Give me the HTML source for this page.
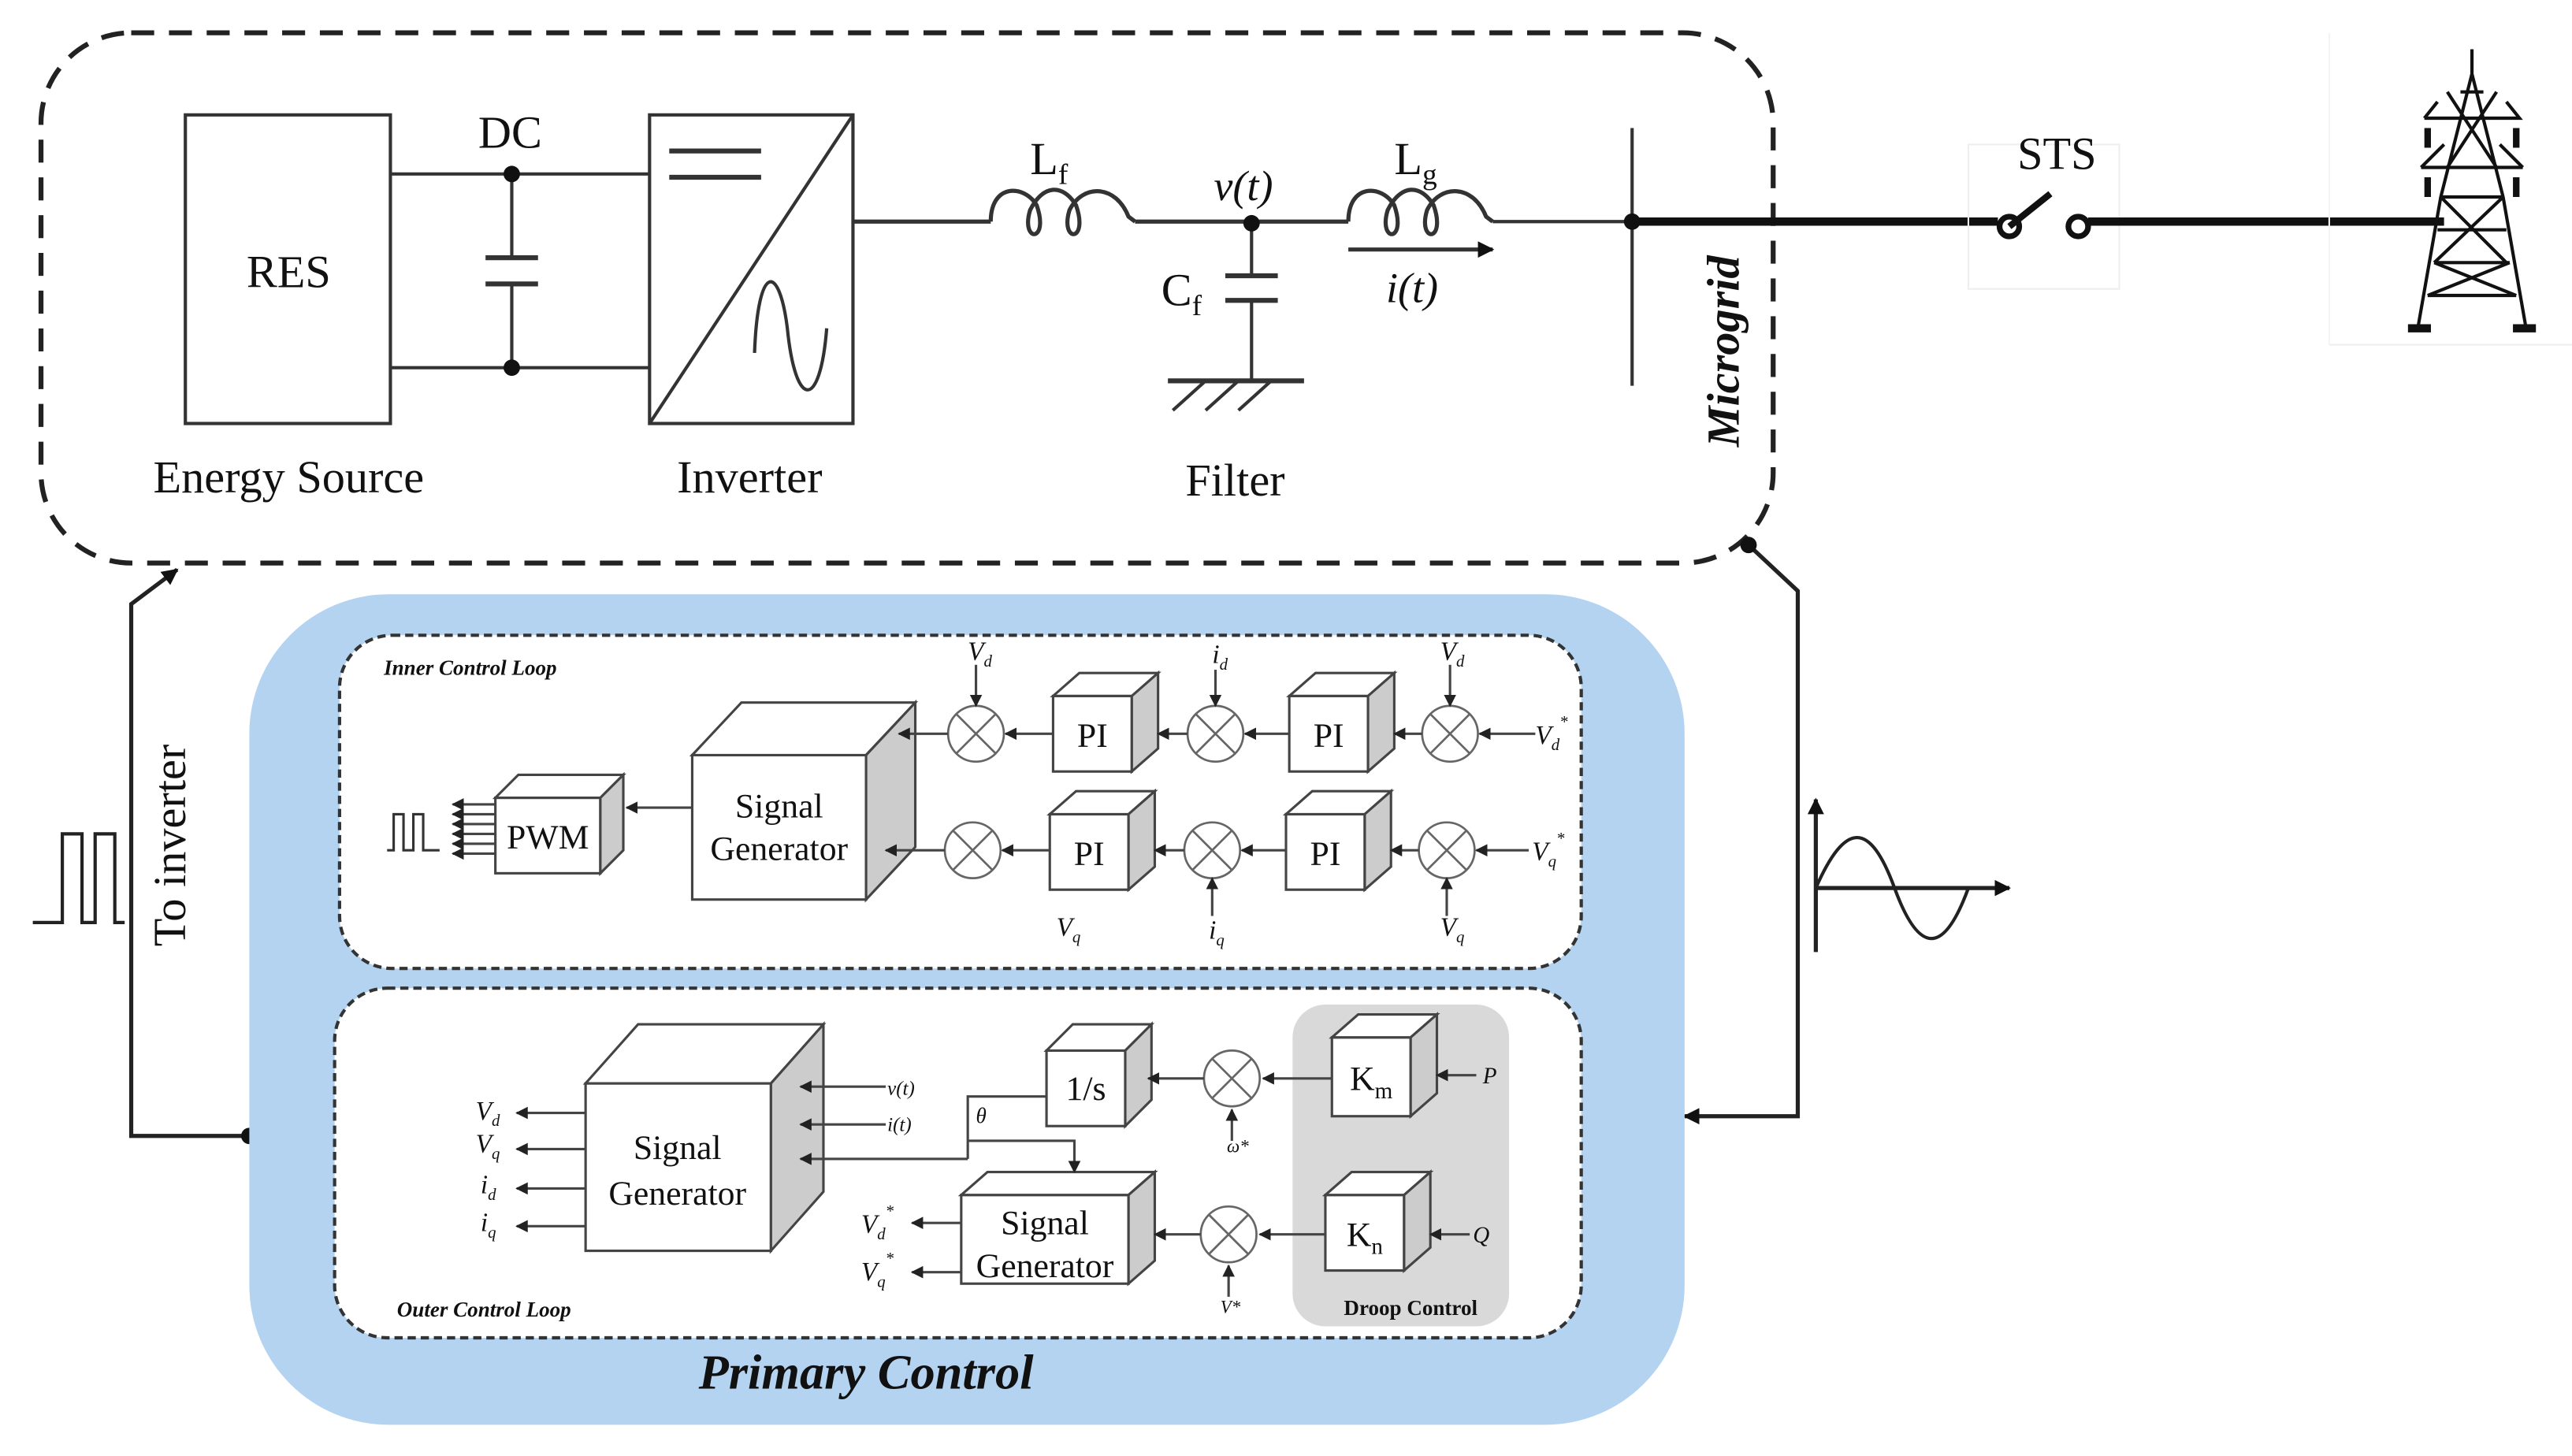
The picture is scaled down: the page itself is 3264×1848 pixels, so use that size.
<!DOCTYPE html>
<html><head><meta charset="utf-8"><style>
html,body{margin:0;padding:0;background:#fff}
svg{display:block}
text{font-family:"Liberation Serif",serif;fill:#111}
.it{font-style:italic}
</style></head><body>
<svg width="3264" height="1848" viewBox="0 0 1568 887" preserveAspectRatio="none" xmlns="http://www.w3.org/2000/svg">
<defs>
<marker id="a" viewBox="0 0 10 10" refX="9" refY="5" markerWidth="5" markerHeight="5" orient="auto"><path d="M0,0L10,5L0,10z" fill="#222"/></marker>
<marker id="b" viewBox="0 0 10 10" refX="9" refY="5" markerWidth="4" markerHeight="4" orient="auto"><path d="M0,0L10,5L0,10z" fill="#111"/></marker>
</defs>
<rect width="1568" height="887" fill="#fff"/>
<rect x="25" y="20" width="1056" height="323" rx="55" fill="none" stroke="#222" stroke-width="3" stroke-dasharray="14,9"/>
<rect x="113" y="70" width="125" height="188" fill="none" stroke="#333" stroke-width="2"/>
<text x="176" y="175" font-size="28" text-anchor="middle">RES</text>
<text x="176" y="300" font-size="28" text-anchor="middle">Energy Source</text>
<g stroke="#333" stroke-width="2" fill="none">
<line x1="238" y1="106" x2="396" y2="106"/><line x1="238" y1="224" x2="396" y2="224"/>
<line x1="312" y1="106" x2="312" y2="157"/><line x1="312" y1="173" x2="312" y2="224"/>
<line x1="296" y1="157" x2="328" y2="157" stroke-width="3"/><line x1="296" y1="173" x2="328" y2="173" stroke-width="3"/>
<rect x="396" y="70" width="124" height="188"/>
<line x1="396" y1="258" x2="520" y2="70"/>
<line x1="408" y1="92" x2="464" y2="92" stroke-width="3"/><line x1="408" y1="108" x2="464" y2="108" stroke-width="3"/>
<path d="M460,215 C462,160 475,160 480,200 C485,250 500,250 504,200"/>
<line x1="520" y1="135" x2="604" y2="135" stroke-width="2.5"/>
<path d="M604,135 C604,112 624,112 632,125 C640,148 622,148 628,128 C636,112 648,112 656,125 C664,148 646,148 652,128 C660,112 680,112 688,132 L692,135" stroke-width="2.5"/>
<line x1="692" y1="135" x2="822" y2="135" stroke-width="2.5"/>
<path d="M822,135 C822,112 842,112 850,125 C858,148 840,148 846,128 C854,112 866,112 874,125 C882,148 864,148 870,128 C878,112 898,112 906,132 L910,135" stroke-width="2.5"/>
<line x1="910" y1="135" x2="995" y2="135" stroke-width="2"/>
<line x1="763" y1="136" x2="763" y2="168"/><line x1="763" y1="183" x2="763" y2="232"/>
<line x1="747" y1="168" x2="779" y2="168" stroke-width="3"/><line x1="747" y1="183" x2="779" y2="183" stroke-width="3"/>
<line x1="712" y1="232" x2="795" y2="232" stroke-width="3"/>
<line x1="735" y1="232" x2="715" y2="250"/><line x1="755" y1="232" x2="735" y2="250"/><line x1="775" y1="232" x2="755" y2="250"/>
<line x1="995" y1="78" x2="995" y2="235"/>
<line x1="822" y1="152" x2="910" y2="152" marker-end="url(#b)" stroke-width="2.5"/>
</g>
<circle cx="312" cy="106" r="5" fill="#111"/><circle cx="312" cy="224" r="5" fill="#111"/>
<circle cx="763" cy="136" r="5" fill="#111"/><circle cx="995" cy="135" r="5" fill="#111"/>
<text x="311" y="90" font-size="28" text-anchor="middle">DC</text>
<text x="628" y="106" font-size="28">L<tspan font-size="18" dy="6">f</tspan></text>
<text x="850" y="106" font-size="28">L<tspan font-size="18" dy="6">g</tspan></text>
<text x="740" y="122" font-size="26" class="it">v(t)</text>
<text x="708" y="186" font-size="28">C<tspan font-size="18" dy="6">f</tspan></text>
<text x="845" y="184" font-size="26" class="it">i(t)</text>
<text x="457" y="300" font-size="28" text-anchor="middle">Inverter</text>
<text x="753" y="302" font-size="28" text-anchor="middle">Filter</text>
<text transform="translate(1060,214) rotate(-90)" font-size="28" font-weight="bold" class="it" text-anchor="middle">Microgrid</text>
<line x1="995" y1="135" x2="1218" y2="135" stroke="#111" stroke-width="5"/>
<rect x="1200" y="88" width="92" height="88" fill="none" stroke="#eee"/>
<text x="1254" y="103" font-size="28" text-anchor="middle">STS</text>
<circle cx="1225" cy="138" r="6" fill="none" stroke="#111" stroke-width="3.5"/>
<line x1="1225" y1="138" x2="1250" y2="118" stroke="#111" stroke-width="4"/>
<circle cx="1267" cy="138" r="6" fill="none" stroke="#111" stroke-width="3.5"/>
<line x1="1273" y1="135" x2="1490" y2="135" stroke="#111" stroke-width="5"/>
<line x1="1420" y1="210" x2="1568" y2="210" stroke="#eee"/>
<line x1="1420" y1="20" x2="1420" y2="210" stroke="#f4f4f4"/>
<g stroke="#111" stroke-width="2" fill="none">
<path d="M1507,30 L1507,45 L1488,120 L1474,200 M1507,45 L1526,120 L1540,200"/>
<path d="M1500,56 L1514,56 M1496,72 L1518,72 M1478,72 L1536,72 L1528,62 M1478,72 L1486,62 M1492,102 L1522,102 M1476,102 L1538,102 M1476,102 L1490,88 M1538,102 L1524,88"/>
<path d="M1492,56 L1522,102 M1522,56 L1492,102 M1488,120 L1526,120 M1486,140 L1528,140 M1484,160 L1530,160 M1488,120 L1528,160 M1526,120 L1484,160 M1480,180 L1534,180 M1484,160 L1534,180 M1530,160 L1480,180"/>
<path d="M1480,78 v12 M1534,78 v12 M1480,108 v12 M1534,108 v12" stroke-width="4"/>
<path d="M1468,200 h14 M1532,200 h14" stroke-width="5"/>
</g>
<g stroke="#222" stroke-width="2.5" fill="none">
<path d="M152,692 L80,692 L80,368 L108,347" marker-end="url(#b)"/>
<path d="M1066,332 L1096,360 L1096,680 L1027,680" marker-end="url(#b)"/>
<path d="M20,562 H38 V508 H50 V562 H58 V508 H70 V562 H76" stroke-width="2"/>
<path d="M1107,580 V487" marker-end="url(#b)"/>
<path d="M1107,541 H1225" marker-end="url(#b)"/>
<path d="M1107,541 C1125,500 1140,500 1155,541 C1170,582 1185,582 1200,541" stroke-width="2"/>
</g>
<circle cx="152" cy="692" r="5" fill="#111"/><circle cx="1066" cy="332" r="5" fill="#111"/>
<text transform="translate(113,515) rotate(-90)" font-size="28" text-anchor="middle">To inverter</text>
<rect x="152" y="362" width="875" height="506" rx="85" fill="#b3d3f1"/>
<rect x="207" y="387" width="757" height="203" rx="32" fill="#fff" stroke="#333" stroke-width="2" stroke-dasharray="5,3"/>
<rect x="204" y="602" width="760" height="213" rx="32" fill="#fff" stroke="#333" stroke-width="2" stroke-dasharray="5,3"/>
<rect x="788" y="612" width="132" height="196" rx="20" fill="#d9d9d9"/>
<text x="528" y="846" font-size="30" font-weight="bold" class="it" text-anchor="middle">Primary Control</text>
<text x="234" y="411" font-size="13" font-weight="bold" class="it">Inner Control Loop</text>
<text x="242" y="802" font-size="13" font-weight="bold" class="it">Outer Control Loop</text>
<text x="860" y="801" font-size="13" font-weight="bold" text-anchor="middle">Droop Control</text>
<g stroke="#444" stroke-width="1.5" fill="#fff">
<rect x="642" y="424" width="48" height="46"/><polygon points="642,424 658,410 706,410 690,424"/><polygon points="690,424 706,410 706,456 690,470" fill="#ccc"/>
<rect x="786" y="424" width="48" height="46"/><polygon points="786,424 802,410 850,410 834,424"/><polygon points="834,424 850,410 850,456 834,470" fill="#ccc"/>
<rect x="640" y="496" width="48" height="46"/><polygon points="640,496 656,482 704,482 688,496"/><polygon points="688,496 704,482 704,528 688,542" fill="#ccc"/>
<rect x="784" y="496" width="48" height="46"/><polygon points="784,496 800,482 848,482 832,496"/><polygon points="832,496 848,482 848,528 832,542" fill="#ccc"/>
<rect x="422" y="460" width="106" height="88"/><polygon points="422,460 452,428 558,428 528,460"/><polygon points="528,460 558,428 558,516 528,548" fill="#ccc"/>
<rect x="302" y="486" width="64" height="46"/><polygon points="302,486 316,472 380,472 366,486"/><polygon points="366,486 380,472 380,518 366,532" fill="#ccc"/>
<rect x="357" y="660" width="113" height="102"/><polygon points="357,660 389,624 502,624 470,660"/><polygon points="470,660 502,624 502,726 470,762" fill="#ccc"/>
<rect x="638" y="640" width="48" height="46"/><polygon points="638,640 654,624 702,624 686,640"/><polygon points="686,640 702,624 702,670 686,686" fill="#ccc"/>
<rect x="586" y="728" width="102" height="54"/><polygon points="586,728 602,714 704,714 688,728"/><polygon points="688,728 704,714 704,768 688,782" fill="#ccc"/>
<rect x="812" y="632" width="48" height="48"/><polygon points="812,632 828,618 876,618 860,632"/><polygon points="860,632 876,618 876,666 860,680" fill="#ccc"/>
<rect x="808" y="728" width="48" height="46"/><polygon points="808,728 824,714 872,714 856,728"/><polygon points="856,728 872,714 872,760 856,774" fill="#ccc"/>
</g>
<g font-size="21" text-anchor="middle">
<text x="666" y="455">PI</text><text x="810" y="455">PI</text><text x="664" y="527">PI</text><text x="808" y="527">PI</text>
<text x="334" y="517">PWM</text>
<text x="475" y="498">Signal</text><text x="475" y="524">Generator</text>
<text x="413" y="706">Signal</text><text x="413" y="734">Generator</text>
<text x="637" y="752">Signal</text><text x="637" y="778">Generator</text>
<text x="662" y="670">1/s</text>
<text x="836" y="664">K<tspan font-size="14" dy="5">m</tspan></text>
<text x="832" y="759">K<tspan font-size="14" dy="5">n</tspan></text>
</g>
<g stroke="#666" stroke-width="1.3" fill="#fff">
<g transform="translate(595,447)"><circle r="17"/><path d="M-12,-12L12,12M12,-12L-12,12"/></g>
<g transform="translate(741,447)"><circle r="17"/><path d="M-12,-12L12,12M12,-12L-12,12"/></g>
<g transform="translate(884,447)"><circle r="17"/><path d="M-12,-12L12,12M12,-12L-12,12"/></g>
<g transform="translate(593,518)"><circle r="17"/><path d="M-12,-12L12,12M12,-12L-12,12"/></g>
<g transform="translate(739,518)"><circle r="17"/><path d="M-12,-12L12,12M12,-12L-12,12"/></g>
<g transform="translate(882,518)"><circle r="17"/><path d="M-12,-12L12,12M12,-12L-12,12"/></g>
<g transform="translate(751,657)"><circle r="17"/><path d="M-12,-12L12,12M12,-12L-12,12"/></g>
<g transform="translate(749,752)"><circle r="17"/><path d="M-12,-12L12,12M12,-12L-12,12"/></g>
</g>
<g stroke="#444" stroke-width="1.5" fill="none" marker-end="url(#a)">
<line x1="936" y1="447" x2="902" y2="447"/><line x1="867" y1="447" x2="850" y2="447"/><line x1="786" y1="447" x2="759" y2="447"/><line x1="724" y1="447" x2="706" y2="447"/><line x1="642" y1="447" x2="613" y2="447"/><line x1="578" y1="447" x2="548" y2="447"/>
<line x1="932" y1="518" x2="900" y2="518"/><line x1="865" y1="518" x2="848" y2="518"/><line x1="784" y1="518" x2="757" y2="518"/><line x1="722" y1="518" x2="704" y2="518"/><line x1="640" y1="518" x2="611" y2="518"/><line x1="576" y1="518" x2="540" y2="518"/>
<line x1="595" y1="405" x2="595" y2="430"/><line x1="741" y1="408" x2="741" y2="430"/><line x1="884" y1="405" x2="884" y2="430"/>
<line x1="739" y1="558" x2="739" y2="535"/><line x1="882" y1="558" x2="882" y2="535"/>
<line x1="422" y1="492" x2="382" y2="492"/>
<line x1="302" y1="490" x2="276" y2="490"/><line x1="302" y1="496" x2="276" y2="496"/><line x1="302" y1="502" x2="276" y2="502"/><line x1="302" y1="508" x2="276" y2="508"/><line x1="302" y1="514" x2="276" y2="514"/><line x1="302" y1="520" x2="276" y2="520"/>
<line x1="357" y1="678" x2="315" y2="678"/><line x1="357" y1="700" x2="315" y2="700"/><line x1="357" y1="724" x2="315" y2="724"/><line x1="357" y1="747" x2="315" y2="747"/>
<line x1="540" y1="662" x2="488" y2="662"/><line x1="540" y1="685" x2="488" y2="685"/><line x1="590" y1="706" x2="488" y2="706"/>
<line x1="734" y1="657" x2="700" y2="657"/><line x1="812" y1="657" x2="770" y2="657"/><line x1="900" y1="655" x2="876" y2="655"/>
<line x1="751" y1="695" x2="751" y2="676"/>
<line x1="732" y1="752" x2="704" y2="752"/><line x1="808" y1="752" x2="768" y2="752"/><line x1="896" y1="752" x2="872" y2="752"/>
<line x1="749" y1="790" x2="749" y2="771"/>
<line x1="586" y1="745" x2="556" y2="745"/><line x1="586" y1="775" x2="556" y2="775"/>
<path d="M590,695 L655,695 L655,714"/>
</g>
<path d="M590,706 L590,668 L638,668" stroke="#444" stroke-width="1.5" fill="none"/>
<path d="M236,518 H240 V496 H246 V518 H252 V496 H258 V518 H268" stroke="#333" stroke-width="1.5" fill="none"/>
<g font-size="16" class="it" fill="#333">
<text x="590" y="402">V<tspan font-size="10" dy="4">d</tspan></text>
<text x="739" y="404">i<tspan font-size="10" dy="4">d</tspan></text>
<text x="878" y="402">V<tspan font-size="10" dy="4">d</tspan></text>
<text x="936" y="453">V<tspan font-size="10" dy="4">d</tspan><tspan font-size="10" dy="-14">*</tspan></text>
<text x="934" y="524">V<tspan font-size="10" dy="4">q</tspan><tspan font-size="10" dy="-14">*</tspan></text>
<text x="644" y="570">V<tspan font-size="10" dy="4">q</tspan></text>
<text x="737" y="572">i<tspan font-size="10" dy="4">q</tspan></text>
<text x="878" y="570">V<tspan font-size="10" dy="4">q</tspan></text>
<text x="290" y="682">V<tspan font-size="10" dy="4">d</tspan></text>
<text x="290" y="702">V<tspan font-size="10" dy="4">q</tspan></text>
<text x="293" y="727">i<tspan font-size="10" dy="4">d</tspan></text>
<text x="293" y="750">i<tspan font-size="10" dy="4">q</tspan></text>
<text x="541" y="667" font-size="12">v(t)</text>
<text x="541" y="689" font-size="12">i(t)</text>
<text x="595" y="684" font-size="13">θ</text>
<text x="748" y="702" font-size="11">ω*</text>
<text x="904" y="660" font-size="14">P</text>
<text x="898" y="757" font-size="14">Q</text>
<text x="744" y="800" font-size="11">V*</text>
<text x="525" y="751">V<tspan font-size="10" dy="4">d</tspan><tspan font-size="10" dy="-14">*</tspan></text>
<text x="525" y="780">V<tspan font-size="10" dy="4">q</tspan><tspan font-size="10" dy="-14">*</tspan></text>
</g>
</svg>
</body></html>
